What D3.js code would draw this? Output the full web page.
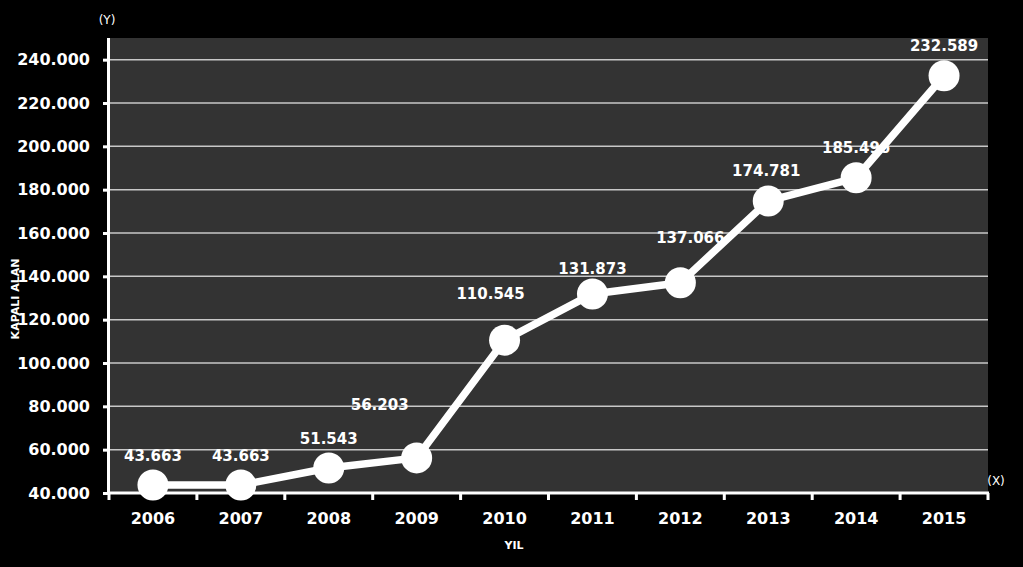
<!DOCTYPE html>
<html>
<head>
<meta charset="utf-8">
<script src="https://cdn.jsdelivr.net/npm/d3@7"></script>
<style>
html,body{margin:0;padding:0;background:#000;}
svg{display:block;}
text{font-family:"DejaVu Sans",sans-serif;font-weight:bold;fill:#fff;}
</style>
</head>
<body>
<svg id="chart" width="1023" height="567"></svg>
<script>
const years = ["2006","2007","2008","2009","2010","2011","2012","2013","2014","2015"];
const values = [43663, 43663, 51543, 56203, 110545, 131873, 137066, 174781, 185496, 232589];
const valueLabels = ["43.663","43.663","51.543","56.203","110.545","131.873","137.066","174.781","185.496","232.589"];
const yTicks = [40000, 60000, 80000, 100000, 120000, 140000, 160000, 180000, 200000, 220000, 240000];
const yTickLabels = ["40.000","60.000","80.000","100.000","120.000","140.000","160.000","180.000","200.000","220.000","240.000"];
// label offsets (dx, dy) relative to point
const labelDx = [0, 0, 0, -37, -14, 0, 10, -2, 0, 0];
const labelDy = [-29, -29, -29, -53, -47, -25, -45, -30, -30, -30];

const svg = d3.select("#chart");
const L = 109, R = 988, T = 38, B = 493;

const x = d3.scaleBand().domain(years).range([L, R]).padding(0);
const y = d3.scaleLinear().domain([40000, 250000]).range([B, T]);

// plot background
svg.append("rect").attr("x", L).attr("y", T).attr("width", R - L).attr("height", B - T).attr("fill", "#333333");

// gridlines
svg.append("g").selectAll("line").data(yTicks.filter(d => d > 40000)).join("line")
  .attr("x1", L).attr("x2", R)
  .attr("y1", d => y(d)).attr("y2", d => y(d))
  .attr("stroke", "#c8c8c8").attr("stroke-width", 1.5);

// y axis
const yAxis = d3.axisLeft(y).tickValues(yTicks).tickSize(6).tickPadding(13)
  .tickFormat((d, i) => yTickLabels[i]);
const gy = svg.append("g").attr("transform", `translate(${L},0)`).call(yAxis);
gy.select(".domain").remove();
gy.selectAll(".tick line").attr("stroke", "#fff").attr("stroke-width", 3);
gy.selectAll(".tick text").attr("font-size", 16).attr("fill", "#fff").style("font-family", "DejaVu Sans").style("font-weight", "bold");
svg.append("line").attr("x1", L - 0.5).attr("x2", L - 0.5).attr("y1", T).attr("y2", B + 1.5)
  .attr("stroke", "#fff").attr("stroke-width", 3);

// x axis
const xAxis = d3.axisBottom(x).tickSize(0).tickPadding(20);
const gx = svg.append("g").attr("transform", `translate(0,${B})`).call(xAxis);
gx.select(".domain").remove();
gx.selectAll(".tick text").attr("font-size", 16).attr("fill", "#fff").style("font-family", "DejaVu Sans").style("font-weight", "bold");
svg.append("line").attr("x1", L - 2).attr("x2", R + 1).attr("y1", B).attr("y2", B)
  .attr("stroke", "#fff").attr("stroke-width", 3);
const bounds = years.map(d => x(d)).concat([x(years[years.length - 1]) + x.bandwidth()]);
svg.append("g").selectAll("line").data(bounds).join("line")
  .attr("x1", d => d).attr("x2", d => d).attr("y1", B).attr("y2", B + 7)
  .attr("stroke", "#fff").attr("stroke-width", 3);

const cx = d => x(d) + x.bandwidth() / 2;

// data labels (under the line)
svg.append("g").selectAll("text").data(years).join("text")
  .attr("x", (d, i) => cx(d) + labelDx[i])
  .attr("y", (d, i) => y(values[i]) + labelDy[i])
  .attr("dy", "0.36em")
  .attr("text-anchor", "middle")
  .attr("font-size", 15)
  .text((d, i) => valueLabels[i]);

// line
const line = d3.line().x((d, i) => cx(years[i])).y(d => y(d));
svg.append("path").datum(values).attr("d", line)
  .attr("fill", "none").attr("stroke", "#fff").attr("stroke-width", 7.5).attr("stroke-linejoin", "round");

// points
svg.append("g").selectAll("circle").data(values).join("circle")
  .attr("cx", (d, i) => cx(years[i])).attr("cy", d => y(d)).attr("r", 15.5)
  .attr("fill", "#fff");

// axis titles
svg.append("text").attr("x", 107).attr("y", 20).attr("dy", "0.36em").attr("text-anchor", "middle")
  .attr("font-size", 12).style("font-weight", "normal").text("(Y)");
svg.append("text").attr("x", 996).attr("y", 481).attr("dy", "0.36em").attr("text-anchor", "middle")
  .attr("font-size", 12).style("font-weight", "normal").text("(X)");
svg.append("text").attr("x", 514).attr("y", 545).attr("dy", "0.36em").attr("text-anchor", "middle")
  .attr("font-size", 11).text("YIL");
svg.append("text").attr("transform", "translate(15,299) rotate(-90)").attr("dy", "0.36em")
  .attr("text-anchor", "middle").attr("font-size", 11).text("KAPALI ALAN");
</script>
</body>
</html>
